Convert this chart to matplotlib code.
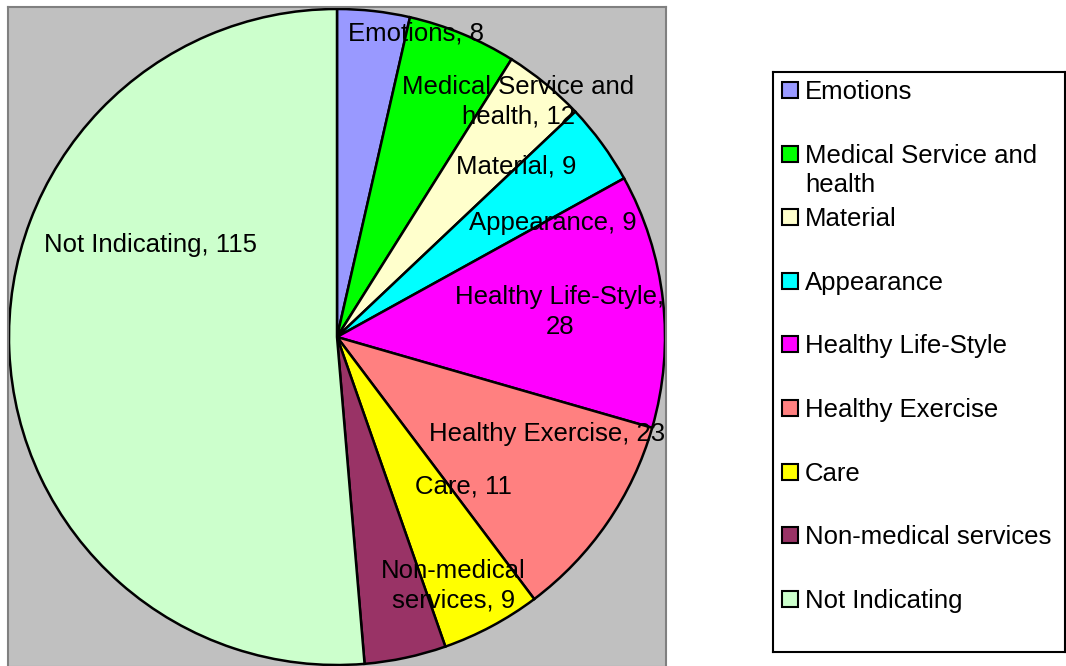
import numpy as np
from matplotlib import pyplot as plt
from matplotlib.patches import Rectangle

plt.rcParams['font.family'] = ['Liberation Sans', 'DejaVu Sans']

# datos del grafico
categorias = ['Emotions', 'Medical Service and health', 'Material', 'Appearance',
              'Healthy Life-Style', 'Healthy Exercise', 'Care',
              'Non-medical services', 'Not Indicating']
valores = [8, 12, 9, 9, 28, 23, 11, 9, 115]
etiquetas = ['Emotions, 8', 'Medical Service and\nhealth, 12', 'Material, 9',
             'Appearance, 9', 'Healthy Life-Style,\n28', 'Healthy Exercise, 23',
             'Care, 11', 'Non-medical\nservices, 9', 'Not Indicating, 115']
leyenda = ['Emotions', 'Medical Service and\nhealth', 'Material', 'Appearance',
           'Healthy Life-Style', 'Healthy Exercise', 'Care',
           'Non-medical services', 'Not Indicating']
colores = ['#9999FF', '#00FF00', '#FFFFCC', '#00FFFF', '#FF00FF',
           '#FF8080', '#FFFF00', '#993366', '#CCFFCC']

# desplazamiento de cada etiqueta (radio relativo, giro en grados)
r_etq = [0.955, 0.905, 0.753, 0.745, 0.684, 0.705, 0.595, 0.838, 0.635]
giro_etq = [-8.2, -15.1, -7.1, -8.4, 0.0, 9.8, 12.1, 13.0, -28.6]

fs = 18.5
fig = plt.figure(figsize=(10.66, 6.66), dpi=100)

# area del pie en pixeles
ax = fig.add_axes([8/1066, -1/666, 658/1066, 660/666])
ax.set_facecolor('#C0C0C0')
cx, cy, R = 329, 330, 328
ax.pie(valores, colors=colores, startangle=90, counterclock=False,
       center=(cx, cy), radius=R, frame=True,
       wedgeprops=dict(edgecolor='black', linewidth=1.8))
ax.set_xlim(0, 658)
ax.set_ylim(0, 660)
ax.set_aspect('auto')
ax.set_xticks([])
ax.set_yticks([])
for s in ax.spines.values():
    s.set_color('#808080')
    s.set_linewidth(1.5)

total = sum(valores)
acum = 0
for i, v in enumerate(valores):
    medio = 90 - (acum + v/2)/total*360
    acum += v
    ang = np.radians(medio + giro_etq[i])
    x = cx + r_etq[i]*R*np.cos(ang)
    y = cy + r_etq[i]*R*np.sin(ang)
    ax.text(x, y, etiquetas[i], ha='center', va='center', fontsize=fs,
            linespacing=1.3, multialignment='center')

# leyenda dibujada a mano
axl = fig.add_axes([773/1066, 1 - 652/666, 292/1066, 580/666])
axl.set_xlim(0, 292)
axl.set_ylim(580, 0)
axl.set_xticks([])
axl.set_yticks([])
for s in axl.spines.values():
    s.set_color('black')
    s.set_linewidth(1.5)
for i, lab in enumerate(leyenda):
    yc = 18 + i*63.6
    axl.add_patch(Rectangle((9, yc - 8), 16, 16, facecolor=colores[i],
                            edgecolor='black', linewidth=1.5))
    axl.text(32, yc - 10, lab, ha='left', va='top', fontsize=fs,
             linespacing=1.3)

fig.savefig('out.png', dpi=100)
